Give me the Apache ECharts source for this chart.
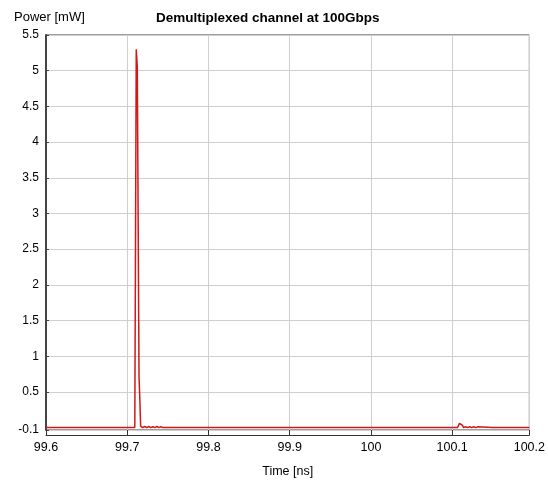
<!DOCTYPE html>
<html>
<head>
<meta charset="utf-8">
<script src="https://cdn.jsdelivr.net/npm/echarts@6/dist/echarts.min.js"></script>
<style>
html,body{margin:0;padding:0;background:#fff;}
#chart{width:548px;height:483px;}
</style>
</head>
<body>
<div id="chart"></div>
<script>
// ---- data ----
const timeNs = [
  99.6, 99.65, 99.7093,
  99.7103, 99.7111, 99.7124, 99.7136, 99.7145, 99.7155, 99.7165,
  99.7190, 99.7215, 99.7240, 99.7265, 99.7290, 99.7315, 99.7340, 99.7365, 99.7390, 99.7415, 99.7440,
  99.80, 99.90, 100.0, 100.1, 100.1065,
  100.1078, 100.1090, 100.1102, 100.1114, 100.1127, 100.1140,
  100.1165, 100.1190, 100.1215, 100.1240, 100.1265, 100.1290, 100.1315,
  100.15, 100.195
];
const powerMw = [
  0, 0, 0,
  2.9, 5.3, 5.05, 5.05, 0.72, 0.4, 0.02,
  0, 0.015, 0, 0.015, 0, 0.012, 0, 0.015, 0, 0.012, 0,
  0, 0, 0, 0, 0,
  0.03, 0.06, 0.06, 0.05, 0.03, 0,
  0.012, 0, 0.012, 0, 0.012, 0, 0.01,
  0, 0
];
const xTickValues = [99.6, 99.7, 99.8, 99.9, 100.0, 100.1, 100.195];
const xTickLabels = ['99.6', '99.7', '99.8', '99.9', '100', '100.1', '100.2'];
const yTickValues = [-0.034, 0.5, 1, 1.5, 2, 2.5, 3, 3.5, 4, 4.5, 5, 5.5];
const yTickLabels = ['-0.1', '0.5', '1', '1.5', '2', '2.5', '3', '3.5', '4', '4.5', '5', '5.5'];
const chartTitle = 'Demultiplexed channel at 100Gbps';
const yName = 'Power [mW]';
const xName = 'Time [ns]';

const FONT = '"Liberation Sans", Arial, sans-serif';
const seriesData = timeNs.map((t, i) => [t, powerMw[i]]);

const chart = echarts.init(document.getElementById('chart'), null, {renderer: 'canvas'});
chart.setOption({
  animation: false,
  backgroundColor: '#ffffff',
  title: {
    text: chartTitle,
    left: 151, top: 6,
    textStyle: {fontFamily: FONT, fontSize: 13.5, fontWeight: 'bold', color: '#000'}
  },
  graphic: [{
    type: 'text', left: 14, top: 11,
    style: {text: yName, fontFamily: FONT, fontSize: 13, fill: '#000'}
  }],
  grid: {
    left: 46, top: 35, width: 484, height: 404,
    show: true, borderColor: '#3a3a3a', borderWidth: 1, backgroundColor: '#fff'
  },
  xAxis: {
    type: 'value',
    min: xTickValues[0], max: xTickValues[xTickValues.length - 1],
    offset: 5,
    name: xName, nameLocation: 'middle', nameGap: 30,
    nameTextStyle: {fontFamily: FONT, fontSize: 12.5, color: '#000'},
    axisLine: {show: true, onZero: false, lineStyle: {color: '#333', width: 1}},
    axisTick: {show: true, inside: true, length: 5, customValues: xTickValues, lineStyle: {color: '#333'}},
    axisLabel: {
      customValues: xTickValues, margin: 6,
      fontFamily: FONT, fontSize: 12.5, color: '#000',
      formatter: (v) => { const i = xTickValues.findIndex(t => Math.abs(t - v) < 1e-6); return i >= 0 ? xTickLabels[i] : ''; }
    },
    splitLine: {show: true, lineStyle: {color: '#cfcfcf', width: 1}}
  },
  yAxis: {
    type: 'value',
    min: yTickValues[0], max: yTickValues[yTickValues.length - 1],
    axisLine: {show: true, onZero: false, lineStyle: {color: '#444', width: 2}},
    axisTick: {show: true, inside: true, length: 3, customValues: yTickValues, lineStyle: {color: '#444'}},
    axisLabel: {
      customValues: yTickValues, margin: 7,
      fontFamily: FONT, fontSize: 12, color: '#000',
      formatter: (v) => { const i = yTickValues.findIndex(t => Math.abs(t - v) < 1e-6); return i >= 0 ? yTickLabels[i] : ''; }
    },
    splitLine: {show: true, lineStyle: {color: '#cfcfcf', width: 1}}
  },
  series: [{
    type: 'line',
    data: seriesData,
    showSymbol: false,
    symbol: 'none',
    lineStyle: {color: '#d01818', width: 1.5},
    z: 3
  }]
});
</script>
</body>
</html>
